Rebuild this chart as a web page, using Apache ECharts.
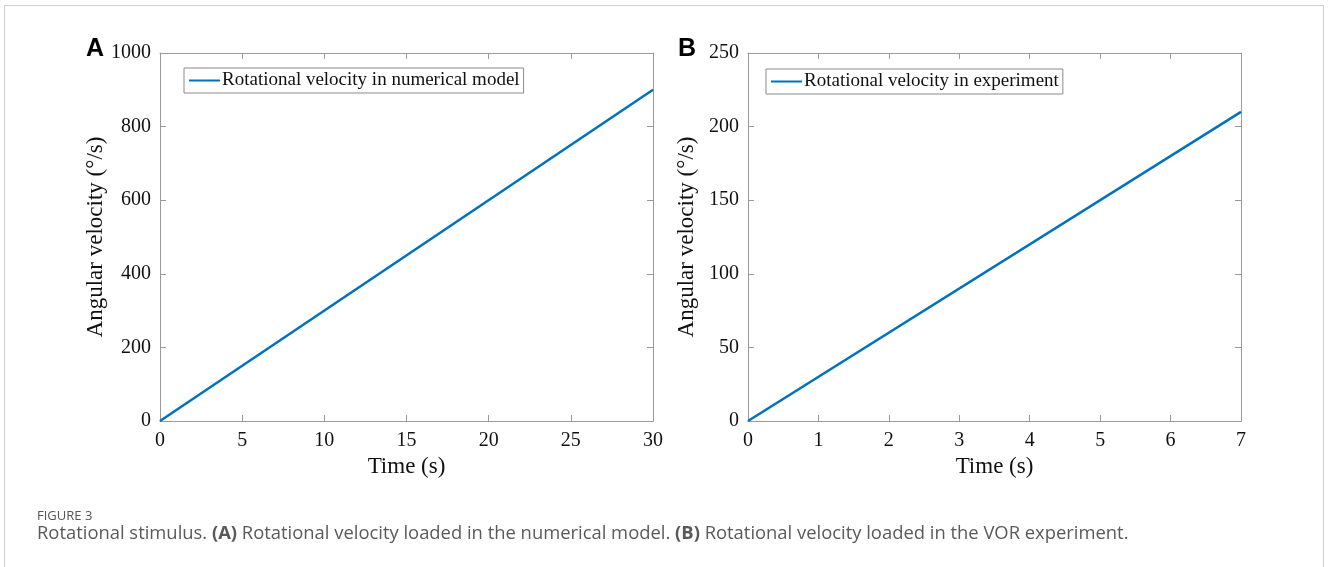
<!DOCTYPE html>
<html>
<head>
<meta charset="utf-8">
<script src="https://cdn.jsdelivr.net/npm/echarts@6/dist/echarts.min.js"></script>
<style>
  html, body { margin: 0; padding: 0; background: #fff; }
  #frame { position: absolute; left: 4px; top: 5px; width: 1318px; height: 600px; border: 1px solid #cfcfcf; }
  #main { position: absolute; left: 0; top: 0; width: 1328px; height: 567px; }
</style>
</head>
<body>
<div id="frame"></div>
<div id="main"></div>
<script>
// panel A: numerical model
var timeA = [0, 30];
var velA = [0, 900];
// panel B: experiment
var timeB = [0, 7];
var velB = [0, 210];

var nameA = 'Rotational velocity in numerical model';
var nameB = 'Rotational velocity in experiment';

var serif = 'Liberation Serif';
var frameColor = '#9a9a9a';
var lineColor = '#0072BD';

function pairs(xs, ys) {
  return xs.map(function (x, i) { return [x, ys[i]]; });
}

function plain(v) { return String(v); }

function xAxes(grid, max, step) {
  return [{
    type: 'value', gridIndex: grid, min: 0, max: max, interval: step,
    name: 'Time (s)', nameLocation: 'middle', nameGap: 34,
    nameTextStyle: { fontFamily: serif, fontSize: 23, color: '#111' },
    axisLine: { onZero: false, lineStyle: { color: frameColor } },
    axisTick: { inside: true, length: 6, lineStyle: { color: frameColor } },
    axisLabel: { fontFamily: serif, fontSize: 20, color: '#111', margin: 10, formatter: plain },
    splitLine: { show: false }
  }, {
    type: 'value', gridIndex: grid, position: 'top', min: 0, max: max, interval: step,
    axisLine: { show: true, onZero: false, lineStyle: { color: frameColor } },
    axisTick: { inside: true, length: 6, lineStyle: { color: frameColor } },
    axisLabel: { show: false }, splitLine: { show: false }
  }];
}

function yAxes(grid, max, step) {
  return [{
    type: 'value', gridIndex: grid, min: 0, max: max, interval: step,
    name: 'Angular velocity (°/s)', nameLocation: 'middle', nameGap: 50,
    nameTextStyle: { fontFamily: serif, fontSize: 23, color: '#111' },
    axisLine: { show: true, onZero: false, lineStyle: { color: frameColor } },
    axisTick: { show: true, inside: true, length: 6, lineStyle: { color: frameColor } },
    axisLabel: { fontFamily: serif, fontSize: 20, color: '#111', margin: 9, formatter: plain },
    splitLine: { show: false }
  }, {
    type: 'value', gridIndex: grid, position: 'right', min: 0, max: max, interval: step,
    axisLine: { show: true, onZero: false, lineStyle: { color: frameColor } },
    axisTick: { show: true, inside: true, length: 6, lineStyle: { color: frameColor } },
    axisLabel: { show: false }, splitLine: { show: false }
  }];
}

function legend(left, top, name) {
  return {
    data: [name], left: left, top: top, orient: 'vertical',
    borderColor: '#8a8a8a', borderWidth: 1, borderRadius: 0,
    padding: [3, 4, 3, 5], itemWidth: 31, itemHeight: 12, itemGap: 0,
    icon: 'path://M0,5 L31,5 L31,7 L0,7 Z',
    textStyle: { fontFamily: serif, fontSize: 19, color: '#111', padding: [0, 0, 0, -3] }
  };
}

var chart = echarts.init(document.getElementById('main'));
chart.setOption({
  animation: false,
  title: [
    { text: 'A', left: 86, top: 37, padding: 0, textStyle: { fontFamily: 'Liberation Sans', fontWeight: 'bold', fontSize: 25, color: '#000' } },
    { text: 'B', left: 678, top: 37, padding: 0, textStyle: { fontFamily: 'Liberation Sans', fontWeight: 'bold', fontSize: 25, color: '#000' } },
    { text: 'FIGURE 3', left: 37, top: 510, padding: 0, textStyle: { fontFamily: 'Open Sans', fontWeight: 'normal', fontSize: 13, color: '#555' } },
    {
      text: 'Rotational stimulus. {b|(A)} Rotational velocity loaded in the numerical model. {b|(B)} Rotational velocity loaded in the VOR experiment.',
      left: 37, top: 525, padding: 0,
      textStyle: {
        fontFamily: 'Open Sans', fontWeight: 'normal', fontSize: 18.4, color: '#5a5a5a',
        rich: { b: { fontFamily: 'Open Sans', fontWeight: 'bold', fontSize: 18.4, color: '#5a5a5a' } }
      }
    }
  ],
  legend: [legend(184, 68, nameA), legend(766, 69, nameB)],
  grid: [
    { left: 160, top: 53, width: 493, height: 368 },
    { left: 748, top: 53, width: 493, height: 368 }
  ],
  xAxis: xAxes(0, 30, 5).concat(xAxes(1, 7, 1)),
  yAxis: yAxes(0, 1000, 200).concat(yAxes(1, 250, 50)),
  series: [
    {
      name: nameA, type: 'line', xAxisIndex: 0, yAxisIndex: 0,
      data: pairs(timeA, velA), showSymbol: false, symbol: 'none',
      lineStyle: { color: lineColor, width: 2.5 }, itemStyle: { color: lineColor }
    },
    {
      name: nameB, type: 'line', xAxisIndex: 2, yAxisIndex: 2,
      data: pairs(timeB, velB), showSymbol: false, symbol: 'none',
      lineStyle: { color: lineColor, width: 2.5 }, itemStyle: { color: lineColor }
    }
  ]
});
</script>
</body>
</html>
